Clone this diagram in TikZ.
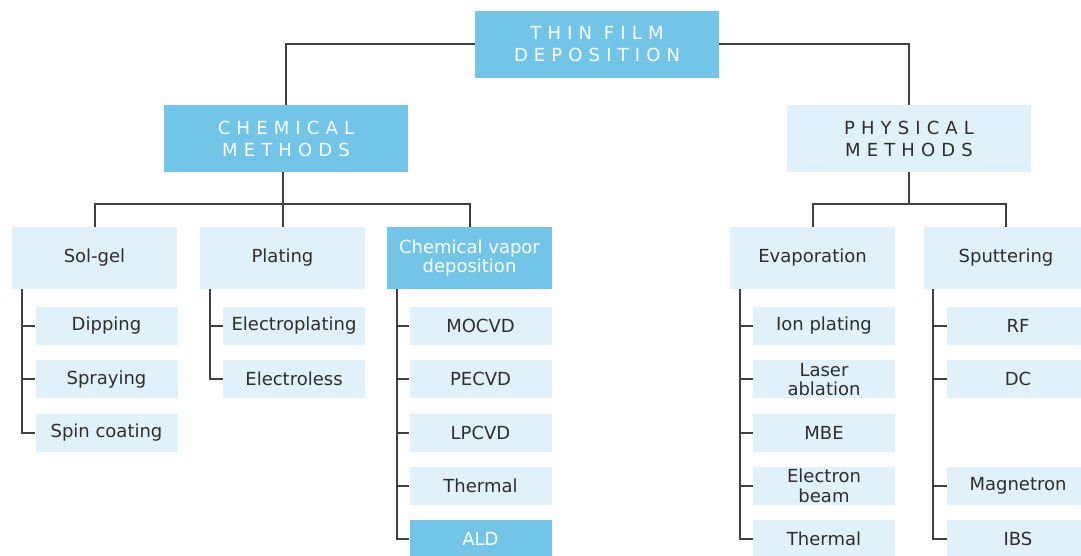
\documentclass[tikz,border=0pt]{standalone}
\usepackage{fontspec}
\setmainfont{DejaVu Sans}
\newfontfamily\spacedfont[LetterSpace=34]{DejaVu Sans}

\definecolor{darkblue}{HTML}{73C5E8}
\definecolor{lightblue}{HTML}{E0F1F9}
\definecolor{linegray}{HTML}{404040}
\definecolor{textgray}{HTML}{2E2E2E}

\tikzset{
    headbox/.style={fill=darkblue, text=white, minimum width=183pt, minimum height=50.25pt,
        inner sep=0pt, align=center, font=\spacedfont\fontsize{13.5}{16.5}\selectfont},
    headlight/.style={headbox, fill=lightblue, text=textgray},
    groupbox/.style={fill=lightblue, text=textgray, minimum width=123.75pt, minimum height=46.5pt,
        inner sep=0pt, align=center, font=\fontsize{13.5}{14.5}\selectfont},
    groupdark/.style={groupbox, fill=darkblue, text=white},
    leafbox/.style={fill=lightblue, text=textgray, minimum width=106.5pt, minimum height=28.5pt,
        inner sep=0pt, align=center, font=\fontsize{13.5}{14.5}\selectfont},
    leafdark/.style={leafbox, fill=darkblue, text=white},
    link/.style={draw=linegray, line width=1.5pt}
}

\begin{document}
\begin{tikzpicture}[x=0.75pt, y=-0.75pt]
        \useasboundingbox (0, 0) rectangle (1081, 556);
        \clip (0, 0) rectangle (1081, 556);

        % top levels
        \node[headbox] (thin) at (597, 44.5) {THIN FILM\\DEPOSITION};
        \node[headbox] (chem) at (286, 138.5) {CHEMICAL\\METHODS};
        \node[headlight] (phys) at (909, 138.5) {PHYSICAL\\METHODS};

        \node[groupbox] (solgel) at (94.5, 258) {Sol-gel};
        \node[groupbox] (plating) at (282.5, 258) {Plating};
        \node[groupdark] (cvd) at (469.5, 258) {Chemical vapor\\deposition};
        \node[groupbox] (evap) at (812.5, 258) {Evaporation};
        \node[groupbox] (sput) at (1006, 258) {Sputtering};

        % leaves
        \foreach \name/\txt/\row in {dip/Dipping/1, spray/Spraying/2, spin/Spin coating/3} {
            \node[leafbox] (\name) at (106.5, 272.75 + 53.25 * \row) {\txt};
        }
        \foreach \name/\txt/\row in {elplat/Electroplating/1, elless/Electroless/2} {
            \node[leafbox] (\name) at (294, 272.75 + 53.25 * \row) {\txt};
        }
        \foreach \name/\txt/\row in {mocvd/MOCVD/1, pecvd/PECVD/2, lpcvd/LPCVD/3, cvtherm/Thermal/4} {
            \node[leafbox] (\name) at (480.5, 272.75 + 53.25 * \row) {\txt};
        }
        \node[leafdark] (ald) at (480.5, 272.75 + 53.25 * 5) {ALD};
        \foreach \name/\txt/\row in {ion/Ion plating/1, laser/{Laser\\ablation}/2, mbe/MBE/3,
                                     ebeam/{Electron\\beam}/4, evtherm/Thermal/5} {
            \node[leafbox] (\name) at (824, 272.75 + 53.25 * \row) {\txt};
        }
        \foreach \name/\txt/\row in {rf/RF/1, dc/DC/2, magnet/Magnetron/4, ibs/IBS/5} {
            \node[leafbox] (\name) at (1018, 272.75 + 53.25 * \row) {\txt};
        }

        % upper connectors
        \draw[link] (thin.west) -| (chem.north);
        \draw[link] (thin.east) -| (phys.north);

        \coordinate (cbus) at (282.5, 204);
        \coordinate (pbus) at (909, 204);
        \draw[link] (plating.north |- chem.south) -- (plating.north);
        \draw[link] (solgel.north) |- (cbus) -| (cvd.north);
        \draw[link] (phys.south) -- (pbus);
        \draw[link] (evap.north) |- (pbus) -| (sput.north);

        % trunks
        \coordinate (sgtrunk) at ([xshift=7.5pt]solgel.south west);
        \coordinate (pltrunk) at ([xshift=7.5pt]plating.south west);
        \coordinate (cvtrunk) at ([xshift=7.5pt]cvd.south west);
        \coordinate (evtrunk) at ([xshift=7.5pt]evap.south west);
        \coordinate (sptrunk) at ([xshift=7.5pt]sput.south west);

        \draw[link] (sgtrunk) |- (spin.west);
        \draw[link] (pltrunk) |- (elless.west);
        \draw[link] (cvtrunk) |- (ald.west);
        \draw[link] (evtrunk) |- (evtherm.west);
        \draw[link] (sptrunk) |- (ibs.west);

        \foreach \name in {dip, spray} {
            \draw[link] (\name.west) -- (\name.west -| sgtrunk);
        }
        \draw[link] (elplat.west) -- (elplat.west -| pltrunk);
        \foreach \name in {mocvd, pecvd, lpcvd, cvtherm} {
            \draw[link] (\name.west) -- (\name.west -| cvtrunk);
        }
        \foreach \name in {ion, laser, mbe, ebeam} {
            \draw[link] (\name.west) -- (\name.west -| evtrunk);
        }
        \foreach \name in {rf, dc, magnet} {
            \draw[link] (\name.west) -- (\name.west -| sptrunk);
        }
    \end{tikzpicture}
\end{document}
